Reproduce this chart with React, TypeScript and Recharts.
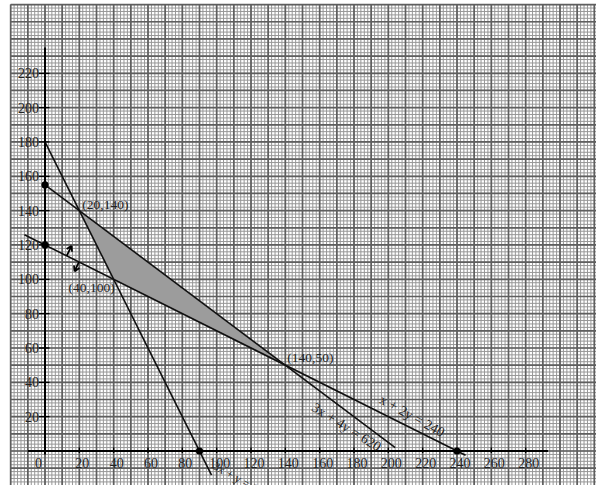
import React from 'react';
import {
  ComposedChart,
  XAxis,
  YAxis,
  CartesianGrid,
  Line,
  Area,
  Scatter,
  ReferenceLine,
  ReferenceDot,
} from 'recharts';

// ---- data ----
const line2xy180 = [
  { x: 0, y: 180 },
  { x: 97, y: -14 },
];
const line3x4y620 = [
  { x: 0, y: 155 },
  { x: 204, y: 2 },
];
const linex2y240 = [
  { x: -12, y: 126 },
  { x: 245, y: -2.5 },
];
const feasibleRegion = [
  { x: 20, range: [140, 140] },
  { x: 40, range: [100, 125] },
  { x: 140, range: [50, 50] },
];
const interceptDots = [
  { x: 0, y: 155 },
  { x: 0, y: 120 },
  { x: 90, y: 0 },
  { x: 240, y: 0 },
];
const xTickValues = [0, 20, 40, 60, 80, 100, 120, 140, 160, 180, 200, 220, 240, 260, 280];
const yTickValues = [20, 40, 60, 80, 100, 120, 140, 160, 180, 200, 220];
const cornerLabels = ['(20,140)', '(40,100)', '(140,50)'];
const equationLabels = ['3x + 4y = 620', 'x + 2y = 240', '3x + y = 180'];

const X_DOMAIN: [number, number] = [-20, 320.97];
const Y_DOMAIN: [number, number] = [-19.8, 260];

const minorX: number[] = [];
for (let v = -20; v <= 321; v += 2) minorX.push(v);
const majorX: number[] = [];
for (let v = -20; v <= 321; v += 10) majorX.push(v);
const minorY: number[] = [];
for (let v = -18; v <= 260; v += 2) minorY.push(v);
const majorY: number[] = [];
for (let v = -10; v <= 260; v += 10) majorY.push(v);

const FONT = '"Liberation Serif", "Times New Roman", serif';

const xTickData = xTickValues.map((v) => ({ x: v, y: 0, label: String(v) }));
const yTickData = yTickValues.map((v) => ({ x: 0, y: v, label: String(v) }));

function scaleOf(axis: any, offset: any, values: number[], horiz: boolean, domain: [number, number]) {
  const s = axis && axis.scale;
  if (typeof s === 'function') return values.map((v) => s(v));
  if (s && typeof s.map === 'function') return values.map((v) => s.map(v));
  if (horiz) {
    return values.map(
      (v) => offset.top + offset.height - ((v - domain[0]) / (domain[1] - domain[0])) * offset.height,
    );
  }
  return values.map((v) => offset.left + ((v - domain[0]) / (domain[1] - domain[0])) * offset.width);
}

const XTick = (props: any) => {
  const { cx, cy, payload } = props;
  if (cx == null) return null;
  const isZero = payload.x === 0;
  return (
    <g>
      {!isZero && <line x1={cx} y1={cy - 3.5} x2={cx} y2={cy + 2} stroke="#000" strokeWidth={1.3} />}
      <text
        x={isZero ? cx - 6.5 : cx + 3}
        y={cy + 17}
        textAnchor="middle"
        fontFamily={FONT}
        fontSize={14}
        fill="#222"
      >
        {payload.label}
      </text>
    </g>
  );
};

const YTick = (props: any) => {
  const { cx, cy, payload } = props;
  if (cx == null) return null;
  return (
    <g>
      <line x1={cx - 6} y1={cy} x2={cx + 4.5} y2={cy} stroke="#000" strokeWidth={1.3} />
      <text x={cx - 6} y={cy + 5} textAnchor="end" fontFamily={FONT} fontSize={14} fill="#222">
        {payload.label}
      </text>
    </g>
  );
};

const Dot = (props: any) => {
  const { cx, cy } = props;
  if (cx == null) return null;
  return <circle cx={cx} cy={cy} r={3.6} fill="#000" />;
};

const textShape =
  (label: string, dx: number, dy: number, anchor: string, rotate = 0, size = 13.5) =>
  (props: any) => {
    const { cx, cy } = props;
    if (cx == null) return null;
    const tx = cx + dx;
    const ty = cy + dy;
    return (
      <text
        x={tx}
        y={ty}
        textAnchor={anchor as any}
        fontFamily={FONT}
        fontSize={size}
        fill="#222"
        transform={rotate ? `rotate(${rotate} ${tx} ${ty})` : undefined}
      >
        {label}
      </text>
    );
  };

const upArrow = (props: any) => {
  const { cx, cy } = props;
  if (cx == null) return null;
  return (
    <path
      d={`M${cx},${cy} L${cx + 5},${cy - 10} M${cx + 5},${cy - 10} L${cx},${cy - 6.7} M${cx + 5},${cy - 10} L${cx + 5.4},${cy - 4}`}
      stroke="#000"
      strokeWidth={1.8}
      fill="none"
    />
  );
};

const downArrow = (props: any) => {
  const { cx, cy } = props;
  if (cx == null) return null;
  return (
    <path
      d={`M${cx},${cy} L${cx - 4.5},${cy + 9.5} M${cx - 4.5},${cy + 9.5} L${cx + 0.4},${cy + 6.1} M${cx - 4.5},${cy + 9.5} L${cx - 5},${cy + 3.5}`}
      stroke="#000"
      strokeWidth={1.8}
      fill="none"
    />
  );
};

export default function App() {
  return (
    <div style={{ position: 'absolute', left: 0, top: 0, width: 596, height: 485, background: '#fff' }}>
      <ComposedChart
        width={596}
        height={485}
        margin={{ top: 4.6, left: 10.67, right: 0, bottom: 0 }}
      >
        <XAxis type="number" dataKey="x" domain={X_DOMAIN} allowDataOverflow hide />
        <YAxis type="number" dataKey="y" domain={Y_DOMAIN} allowDataOverflow hide />
        <CartesianGrid
          stroke="#979797"
          strokeWidth={1}
          verticalCoordinatesGenerator={({ xAxis, offset }: any) =>
            scaleOf(xAxis, offset, minorX, false, X_DOMAIN)
          }
          horizontalCoordinatesGenerator={({ yAxis, offset }: any) =>
            scaleOf(yAxis, offset, minorY, true, Y_DOMAIN)
          }
        />
        <CartesianGrid
          stroke="#5f5f5f"
          strokeWidth={1.7}
          verticalCoordinatesGenerator={({ xAxis, offset }: any) =>
            scaleOf(xAxis, offset, majorX, false, X_DOMAIN)
          }
          horizontalCoordinatesGenerator={({ yAxis, offset }: any) =>
            scaleOf(yAxis, offset, majorY, true, Y_DOMAIN)
          }
        />
        <Area
          data={feasibleRegion}
          dataKey="range"
          type="linear"
          stroke="none"
          fill="#9c9c9c"
          fillOpacity={1}
          isAnimationActive={false}
        />
        <Line data={line2xy180} dataKey="y" type="linear" stroke="#111" strokeWidth={1.6} dot={false} isAnimationActive={false} />
        <Line data={line3x4y620} dataKey="y" type="linear" stroke="#111" strokeWidth={1.6} dot={false} isAnimationActive={false} />
        <Line data={linex2y240} dataKey="y" type="linear" stroke="#111" strokeWidth={1.6} dot={false} isAnimationActive={false} />
        <ReferenceLine segment={[{ x: -10, y: 0 }, { x: 293, y: 0 }]} stroke="#000" strokeWidth={2} />
        <ReferenceLine segment={[{ x: 0, y: -2 }, { x: 0, y: 235 }]} stroke="#000" strokeWidth={2} />
        <Scatter data={xTickData} shape={XTick} isAnimationActive={false} />
        <Scatter data={yTickData} shape={YTick} isAnimationActive={false} />
        <Scatter data={interceptDots} shape={Dot} isAnimationActive={false} />
        <ReferenceDot x={20} y={140} r={0} shape={textShape(cornerLabels[0], 3, -2, 'start')} />
        <ReferenceDot x={40} y={100} r={0} shape={textShape(cornerLabels[1], 1, 13, 'end')} />
        <ReferenceDot x={140} y={50} r={0} shape={textShape(cornerLabels[2], 2, -3, 'start')} />
        <ReferenceDot x={174.2} y={14.6} r={0} shape={textShape(equationLabels[0], 0, 5, 'middle', 32, 14)} />
        <ReferenceDot x={212.6} y={21} r={0} shape={textShape(equationLabels[1], 0, 5, 'middle', 29, 14)} />
        <ReferenceDot x={97.3} y={-10} r={0} ifOverflow="visible" shape={textShape(equationLabels[2], 0, 0, 'start', 30, 12)} />
        <ReferenceDot x={12.6} y={113.7} r={0} shape={upArrow} />
        <ReferenceDot x={19.8} y={110.1} r={0} shape={downArrow} />
      </ComposedChart>
    </div>
  );
}
